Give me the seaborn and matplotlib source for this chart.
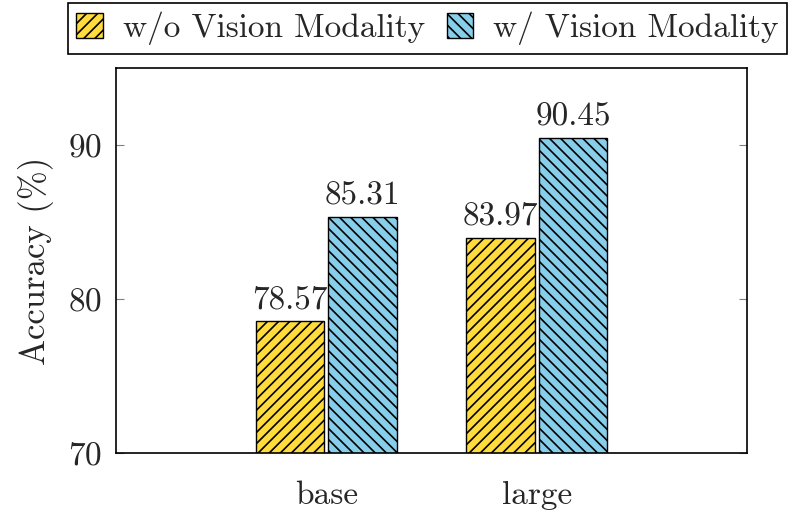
import pandas as pd
import numpy as np
import seaborn as sns
from matplotlib import pyplot as plt
from matplotlib.patches import Patch

# datos
modelos = ["base", "large"]
sin_vision = [78.57, 83.97]
con_vision = [85.31, 90.45]
series = ["w/o Vision Modality", "w/ Vision Modality"]
colores = ["#FFDB3B", "#87CEEB"]
tramas = ["///", "\\\\\\"]

df = pd.DataFrame({
    "modelo": modelos * 2,
    "acc": sin_vision + con_vision,
    "serie": [series[0]] * len(modelos) + [series[1]] * len(modelos),
})

sns.set_style("white")
plt.rcParams["font.family"] = ["cmr10", "DejaVu Serif"]
plt.rcParams["axes.formatter.use_mathtext"] = True
plt.rcParams["mathtext.fontset"] = "cm"
plt.rcParams["hatch.linewidth"] = 1.2
plt.rcParams["hatch.color"] = "black"

fig = plt.figure(figsize=(7.92, 5.16), dpi=100)
ax = fig.add_axes([0.1465, 0.1221, 0.7967, 0.7461])

sns.barplot(data=df, x="modelo", y="acc", hue="serie", hue_order=series,
            palette=colores, width=0.692, gap=0.055, saturation=1,
            edgecolor="black", linewidth=1.0, legend=False, ax=ax)

for cont, trama in zip(ax.containers, tramas):
    for barra in cont:
        barra.set_hatch(trama)
    ax.bar_label(cont, fmt="%.2f", padding=5, fontsize=24)

ax.set_xlim(-1, 2)
ax.set_ylim(70, 95)
ax.set_yticks([70, 80, 90])
ax.set_ylabel("Accuracy (%)", fontsize=25, labelpad=10)
ax.set_xlabel("")
ax.tick_params(axis="y", direction="in", length=6, width=0.8, color="#808080",
               labelsize=24, pad=10, right=True, left=True)
ax.tick_params(axis="x", length=0, labelsize=24, pad=20)
for s in ax.spines.values():
    s.set_color("black")
    s.set_linewidth(1.2)

handles = [Patch(facecolor=c, edgecolor="black", hatch=h, label=l)
           for c, h, l in zip(colores, tramas, series)]
leg = fig.legend(handles=handles, loc="upper center", bbox_to_anchor=(0.54, 1.0),
                 ncol=2, fontsize=24, fancybox=False, framealpha=1,
                 edgecolor="black", handlelength=0.8, handleheight=0.8,
                 handletextpad=0.6, columnspacing=0.65, borderpad=0.25,
                 borderaxespad=0.1)
leg.get_frame().set_linewidth(1.2)

fig.savefig("out.png", dpi=100)
